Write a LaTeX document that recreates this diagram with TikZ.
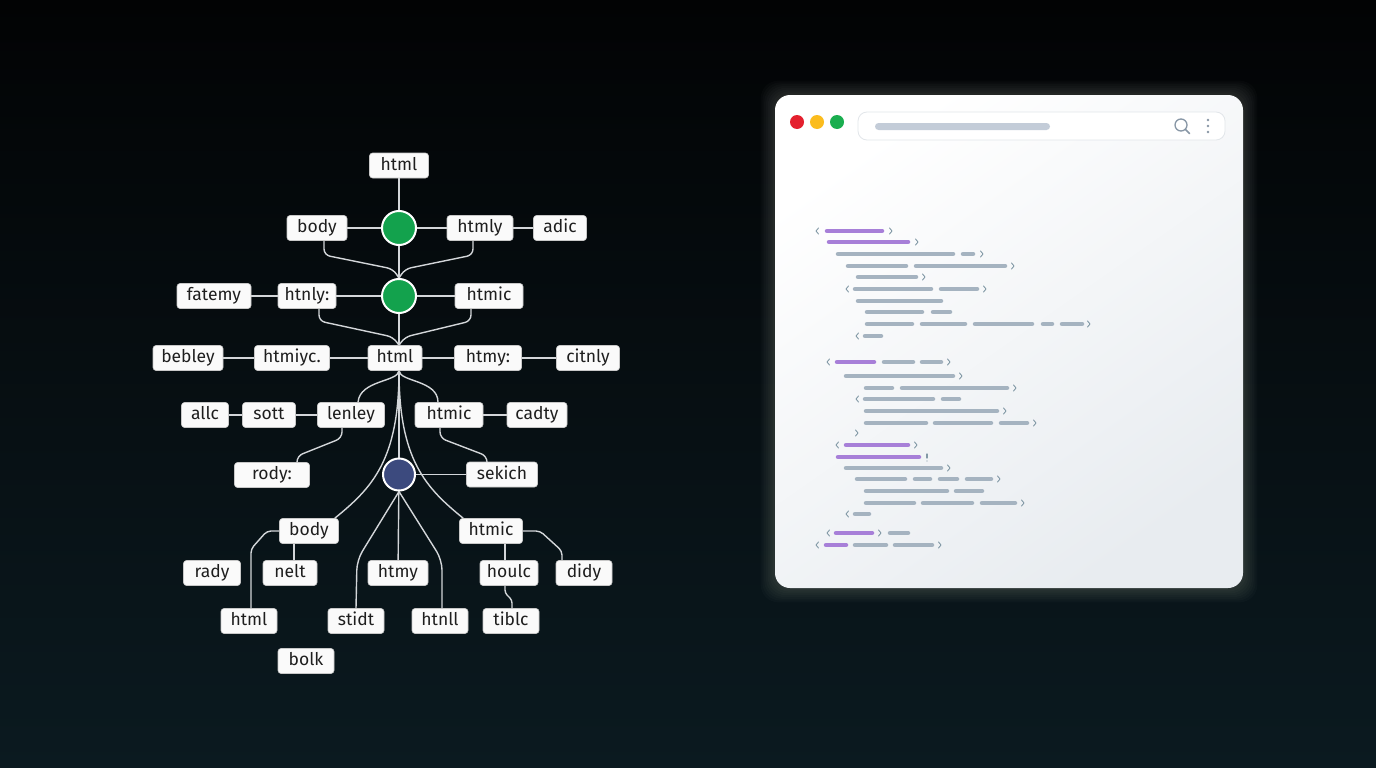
\documentclass[tikz,border=0pt]{standalone}
\usepackage{fontspec}
\setmainfont{Fira Sans}
\usetikzlibrary{calc}
\definecolor{bgtop}{HTML}{020304}
\definecolor{bgbot}{HTML}{0B1A20}
\definecolor{tagfill}{HTML}{FAFAFA}
\definecolor{tagedge}{HTML}{C8C8C8}
\definecolor{tagtext}{HTML}{1E1E1E}
\definecolor{linec}{HTML}{D3D6D9}
\definecolor{dotgreen}{HTML}{13A24D}
\definecolor{dotblue}{HTML}{3C4A7E}
\definecolor{winbot}{HTML}{E8ECF0}
\definecolor{barbox}{HTML}{E2E6EA}
\definecolor{barin}{HTML}{C3CCD8}
\definecolor{iconc}{HTML}{8796A5}
\definecolor{tlred}{HTML}{E4202E}
\definecolor{tlyel}{HTML}{FBBC1E}
\definecolor{tlgrn}{HTML}{1AAE4F}
\definecolor{codegrey}{HTML}{A5B3C0}
\definecolor{codepurp}{HTML}{A77FD8}
\definecolor{chevc}{HTML}{8299A6}
\definecolor{glowc}{HTML}{FFF8E6}
\pgfdeclarelayer{bg}
\pgfdeclarelayer{lines}
\pgfsetlayers{bg,lines,main}
\newcommand{\codeG}[3]{\draw[gbar] (#1+2,#3) -- (#2-2,#3);}
\newcommand{\codeP}[3]{\draw[pbar] (#1+2,#3) -- (#2-2,#3);}
\newcommand{\chL}[2]{\draw[chev] (#1+1.5,#2-3) -- (#1-1,#2) -- (#1+1.5,#2+3);}
\newcommand{\chR}[2]{\draw[chev] (#1-1.5,#2-3) -- (#1+1,#2) -- (#1-1.5,#2+3);}
\begin{document}
\begin{tikzpicture}[x=1pt,y=-1pt,
  tag/.style={draw=tagedge, line width=0.6pt, fill=tagfill, rounded corners=3pt,
    minimum height=25pt, inner sep=0pt, text=tagtext, text height=12.5pt, text depth=3.5pt,
    font=\fontsize{17.5}{20}\selectfont},
  gdot/.style={circle, fill=dotgreen, draw=white, line width=2pt, minimum size=34pt, inner sep=0pt},
  bdot/.style={circle, fill=dotblue, draw=white, line width=2pt, minimum size=32pt, inner sep=0pt},
  conn/.style={draw=linec, line width=1.4pt, rounded corners=6pt},
  gbar/.style={draw=codegrey, line width=4.5pt, line cap=round},
  pbar/.style={draw=codepurp, line width=4.5pt, line cap=round},
  chev/.style={draw=chevc, line width=0.9pt, line cap=round, line join=round}]
\useasboundingbox (0,0) rectangle (1376,768);
\begin{pgfonlayer}{bg}
\shade[top color=bgtop, bottom color=bgbot] (0,0) rectangle (1376,768);
% glow
\foreach \i in {1,...,8}{
  \fill[glowc, opacity=0.02, rounded corners=18pt] (775-\i*1.8,95-\i*1.8) rectangle (1243+\i*1.8,588+\i*1.8);
}
% window
\shade[rounded corners=15pt, top color=white, bottom color=winbot, shading angle=35] (775,95) rectangle (1243,588);
\fill[tlred] (797,122) circle (7);
\fill[tlyel] (817,122) circle (7);
\fill[tlgrn] (837,122) circle (7);
\draw[barbox, fill=white, line width=0.8pt, rounded corners=9pt] (858,112) rectangle (1225,140);
\fill[barin, rounded corners=3.5pt] (875,123) rectangle (1050,130);
\draw[iconc, line width=1.3pt] (1181,125) circle (6);
\draw[iconc, line width=1.5pt, line cap=round] (1185.5,129.5) -- (1189.5,133.5);
\fill[iconc] (1208,120) circle (1.4) (1208,126) circle (1.4) (1208,132) circle (1.4);
% code
\chL{817}{231} \codeP{825}{884}{231} \chR{891}{231}
\codeP{827}{910}{242} \chR{917}{242}
\codeG{836}{955}{254} \codeG{961}{975}{254} \chR{982}{254}
\codeG{846}{908}{266} \codeG{914}{1007}{266} \chR{1013}{266}
\codeG{856}{918}{277} \chR{924}{277}
\chL{847}{289} \codeG{853}{933}{289} \codeG{939}{979}{289} \chR{985}{289}
\codeG{856}{943}{301}
\codeG{865}{924}{312} \codeG{931}{952}{312}
\codeG{865}{914}{324} \codeG{920}{967}{324} \codeG{973}{1034}{324} \codeG{1041}{1054}{324} \codeG{1060}{1084}{324} \chR{1089}{324}
\chL{857}{336} \codeG{863}{883}{336}
\chL{828}{362} \codeP{835}{876}{362} \codeG{882}{915}{362} \codeG{920}{943}{362} \chR{949}{362}
\codeG{844}{955}{376} \chR{961}{376}
\codeG{864}{894}{388} \codeG{900}{1009}{388} \chR{1015}{388}
\chL{857}{399} \codeG{863}{935}{399} \codeG{941}{961}{399}
\codeG{864}{999}{411} \chR{1005}{411}
\codeG{864}{928}{423} \codeG{933}{993}{423} \codeG{999}{1029}{423} \chR{1035}{423}
\chR{857}{433}
\chL{837}{445} \codeP{844}{910}{445} \chR{916}{445}
\codeP{836}{921}{457} \draw[chev, line width=1.2pt] (927,454) -- (927,458); \fill[chevc] (927,461) circle (0.7);
\codeG{844}{943}{468} \chR{949}{468}
\codeG{855}{907}{479} \codeG{913}{932}{479} \codeG{938}{959}{479} \codeG{965}{993}{479} \chR{999}{479}
\codeG{864}{949}{491} \codeG{954}{984}{491}
\codeG{864}{916}{503} \codeG{921}{974}{503} \codeG{980}{1017}{503} \chR{1023}{503}
\chL{847}{514} \codeG{853}{871}{514}
\chL{828}{533} \codeP{834}{874}{533} \chR{880}{533} \codeG{888}{910}{533}
\chL{817}{545} \codeP{824}{848}{545} \codeG{853}{888}{545} \codeG{893}{934}{545} \chR{940}{545}
\end{pgfonlayer}
% ---------- tree nodes ----------
\node[tag, minimum width=59] (h0) at (399,165.5) {html};
\node[gdot] (c1) at (399,228) {};
\node[tag, minimum width=60] (body1) at (317,228) {body};
\node[tag, minimum width=66] (htmly) at (480,228) {htmly};
\node[tag, minimum width=53] (adic) at (560,228) {adic};
\node[gdot] (c2) at (399,296) {};
\node[tag, minimum width=74] (fatemy) at (214,296) {fatemy};
\node[tag, minimum width=58] (htnly) at (307,296) {htnly:};
\node[tag, minimum width=68] (htmic2) at (489,296) {htmic};
\node[tag, minimum width=70] (bebley) at (188,358) {bebley};
\node[tag, minimum width=75] (htmiyc) at (292,358) {htmiyc.};
\node[tag, minimum width=54] (h3) at (395,358) {html};
\node[tag, minimum width=67] (htmyc) at (488,358) {htmy:};
\node[tag, minimum width=63] (citnly) at (588,358) {citnly};
\node[tag, minimum width=47] (allc) at (205,415) {allc};
\node[tag, minimum width=53] (sott) at (269,415) {sott};
\node[tag, minimum width=67] (lenley) at (351,415) {lenley};
\node[tag, minimum width=68] (htmic4) at (449,415) {htmic};
\node[tag, minimum width=60] (cadty) at (537,415) {cadty};
\node[tag, minimum width=75] (rody) at (272,475) {rody:};
\node[bdot] (bc) at (399,474.5) {};
\node[tag, minimum width=71] (sekich) at (502,474.5) {sekich};
\node[tag, minimum width=59] (body6) at (309,531) {body};
\node[tag, minimum width=63] (htmic6) at (491,531) {htmic};
\node[tag, minimum width=57] (rady) at (212,573) {rady};
\node[tag, minimum width=54] (nelt) at (290,573) {nelt};
\node[tag, minimum width=60] (htmy7) at (398,573) {htmy};
\node[tag, minimum width=58] (houlc) at (509,573) {houlc};
\node[tag, minimum width=56] (didy) at (584,573) {didy};
\node[tag, minimum width=56] (html8) at (249,621) {html};
\node[tag, minimum width=56] (stidt) at (356,621) {stidt};
\node[tag, minimum width=56] (htnll) at (440,621) {htnll};
\node[tag, minimum width=56] (tiblc) at (511,621) {tiblc};
\node[tag, minimum width=56] (bolk) at (306,661) {bolk};
% ---------- connectors ----------
\begin{pgfonlayer}{lines}
\draw[conn] (h0) -- (c1);
\draw[conn] (body1) -- (c1);
\draw[conn] (c1) -- (htmly);
\draw[conn] (htmly) -- (adic);
\draw[conn] (c1) -- (c2);
\draw[conn] ([xshift=7]body1.south) -- (324,255) -- (393,269) -- (c2.north);
\draw[conn] ([xshift=-7]htmly.south) -- (473,255) -- (405,269) -- (c2.north);
\draw[conn] (fatemy) -- (htnly);
\draw[conn] (htnly) -- (c2);
\draw[conn] (c2) -- (htmic2);
\draw[conn] ([xshift=12]htnly.south) -- (319,321) -- (393,337) -- ([xshift=4]h3.north);
\draw[conn] ([xshift=-18]htmic2.south) -- (471,321) -- (405,337) -- ([xshift=4]h3.north);
\draw[conn] (c2) -- ([xshift=4]h3.north);
\draw[conn] (bebley) -- (htmiyc);
\draw[conn] (htmiyc) -- (h3);
\draw[conn] (h3) -- (htmyc);
\draw[conn] (htmyc) -- (citnly);
\draw[conn] (allc) -- (sott);
\draw[conn] (sott) -- (lenley);
\draw[conn] (htmic4) -- (cadty);
\draw[conn] ([xshift=4]h3.south) .. controls (398,382) and (360,380) .. ([xshift=7]lenley.north);
\draw[conn] ([xshift=4]h3.south) .. controls (400,382) and (438,380) .. ([xshift=-11]htmic4.north);
\draw[conn] ([xshift=4]h3.south) .. controls (399,460) and (372,488) .. ([xshift=-4]body6.north east);
\draw[conn] ([xshift=4]h3.south) .. controls (399,460) and (426,488) .. ([xshift=4]htmic6.north west);
\draw[conn] ([xshift=4]h3.south) -- (bc);
\draw[conn] ([xshift=-9]lenley.south) -- (342,438) -- (297,456) -- ([xshift=25]rody.north);
\draw[conn] ([xshift=-9]htmic4.south) -- (440,438) -- (487,456) -- ([xshift=-15]sekich.north);
\draw[conn] (bc) -- (sekich);
\draw[conn, rounded corners=10pt] (bc.south) -- (357,560) -- (stidt.north);
\draw[conn] (bc) -- (htmy7);
\draw[conn, rounded corners=10pt] (bc.south) -- (442,560) -- ([xshift=2]htnll.north);
\draw[conn, rounded corners=4pt] (body6.west) -- (267,531) -- (251,549) -- ([xshift=2]html8.north);
\draw[conn] ([xshift=-15]body6.south) -- ([xshift=4]nelt.north);
\draw[conn, rounded corners=4pt] (htmic6.east) -- (540,531) -- (562,551) -- ([xshift=-22]didy.north);
\draw[conn] ([xshift=14]htmic6.south) -- ([xshift=-4]houlc.north);
\draw[conn, rounded corners=3pt] ([xshift=-4]houlc.south) -- (505,593) -- (512,600) -- ([xshift=1]tiblc.north);
\end{pgfonlayer}
\end{tikzpicture}
\end{document}
